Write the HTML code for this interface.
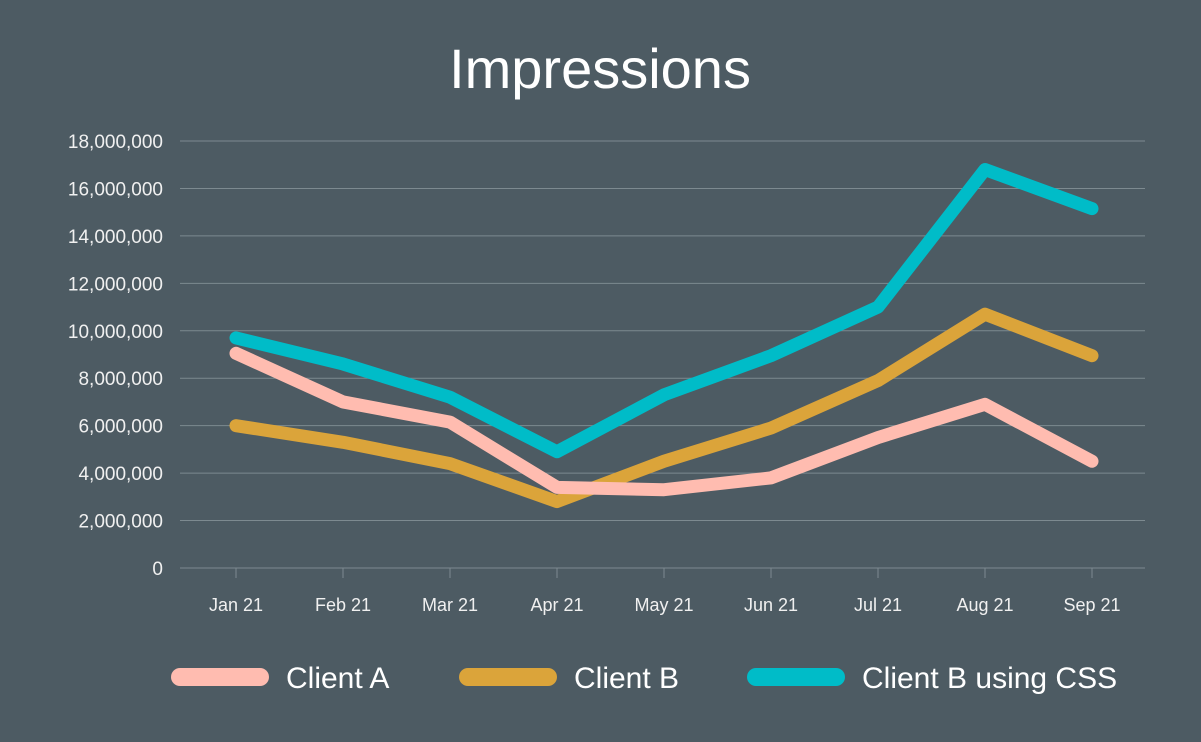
<!DOCTYPE html>
<html><head><meta charset="utf-8"><style>
html,body{margin:0;padding:0;background:#4d5b63;}
svg{display:block;font-family:"Liberation Sans",sans-serif;}
</style></head><body>
<svg id="chart" width="1201" height="742">
<rect width="1201" height="742" fill="#4d5b63"/>
<text x="600" y="88" text-anchor="middle" font-size="56" fill="#ffffff">Impressions</text>
<g id="grid"></g><g id="yticks"></g><g id="xticks"></g><g id="series"></g>
<g id="legend">
 <line x1="180" y1="677" x2="260" y2="677" stroke="#ffbcb0" stroke-width="18" stroke-linecap="round"/>
 <text x="286" y="688" font-size="30" fill="#fff">Client A</text>
 <line x1="468" y1="677" x2="548" y2="677" stroke="#dba43a" stroke-width="18" stroke-linecap="round"/>
 <text x="574" y="688" font-size="30" fill="#fff">Client B</text>
 <line x1="756" y1="677" x2="836" y2="677" stroke="#00bcc8" stroke-width="18" stroke-linecap="round"/>
 <text x="862" y="688" font-size="30" fill="#fff">Client B using CSS</text>
</g>
</svg>
<script>
const categories=["Jan 21","Feb 21","Mar 21","Apr 21","May 21","Jun 21","Jul 21","Aug 21","Sep 21"];
const clientA=[9050000,7000000,6150000,3400000,3300000,3800000,5500000,6900000,4500000];
const clientB=[6000000,5300000,4400000,2800000,4500000,5900000,7900000,10700000,8950000];
const clientBCss=[9700000,8600000,7200000,4900000,7300000,8950000,11000000,16800000,15150000];
const yTicks=[0,2000000,4000000,6000000,8000000,10000000,12000000,14000000,16000000,18000000];
const NS="http://www.w3.org/2000/svg";
const x0=236,dx=107,yBase=568,yTop=141,yMax=18000000;
const xs=i=>x0+i*dx;
const ys=v=>yBase-(v/yMax)*(yBase-yTop);
function mk(tag,attrs,parent){const e=document.createElementNS(NS,tag);for(const k in attrs)e.setAttribute(k,attrs[k]);parent.appendChild(e);return e;}
const grid=document.getElementById('grid'),yt=document.getElementById('yticks'),xt=document.getElementById('xticks'),ser=document.getElementById('series');
yTicks.forEach(v=>{
 const l=mk('line',{x1:180,x2:1145,y1:ys(v),y2:ys(v),stroke:'#7d8a90','stroke-width':1},grid);
 
 
 const t=mk('text',{x:163,y:ys(v)+7,'text-anchor':'end','font-size':19,fill:'#f0f0f0'},yt);
 t.textContent=v.toLocaleString('en-US');
 
 
});
categories.forEach((c,i)=>{
 const tk=mk('line',{x1:xs(i),x2:xs(i),y1:yBase,y2:yBase+10,stroke:'#7d8a90','stroke-width':1},xt);
 
 
 const t=mk('text',{x:xs(i),y:611,'text-anchor':'middle','font-size':18,fill:'#f0f0f0'},xt);
 t.textContent=c;
 
 
});
[[clientB,'#dba43a','line-client-b'],[clientA,'#ffbcb0','line-client-a'],[clientBCss,'#00bcc8','line-client-b-css']].forEach(([d,col,name])=>{
 const p=mk('polyline',{points:d.map((v,i)=>xs(i)+','+ys(v)).join(' '),fill:'none',stroke:col,'stroke-width':13,'stroke-linecap':'round','stroke-linejoin':'round'},ser);
 
 
});
</script>
</body></html>
